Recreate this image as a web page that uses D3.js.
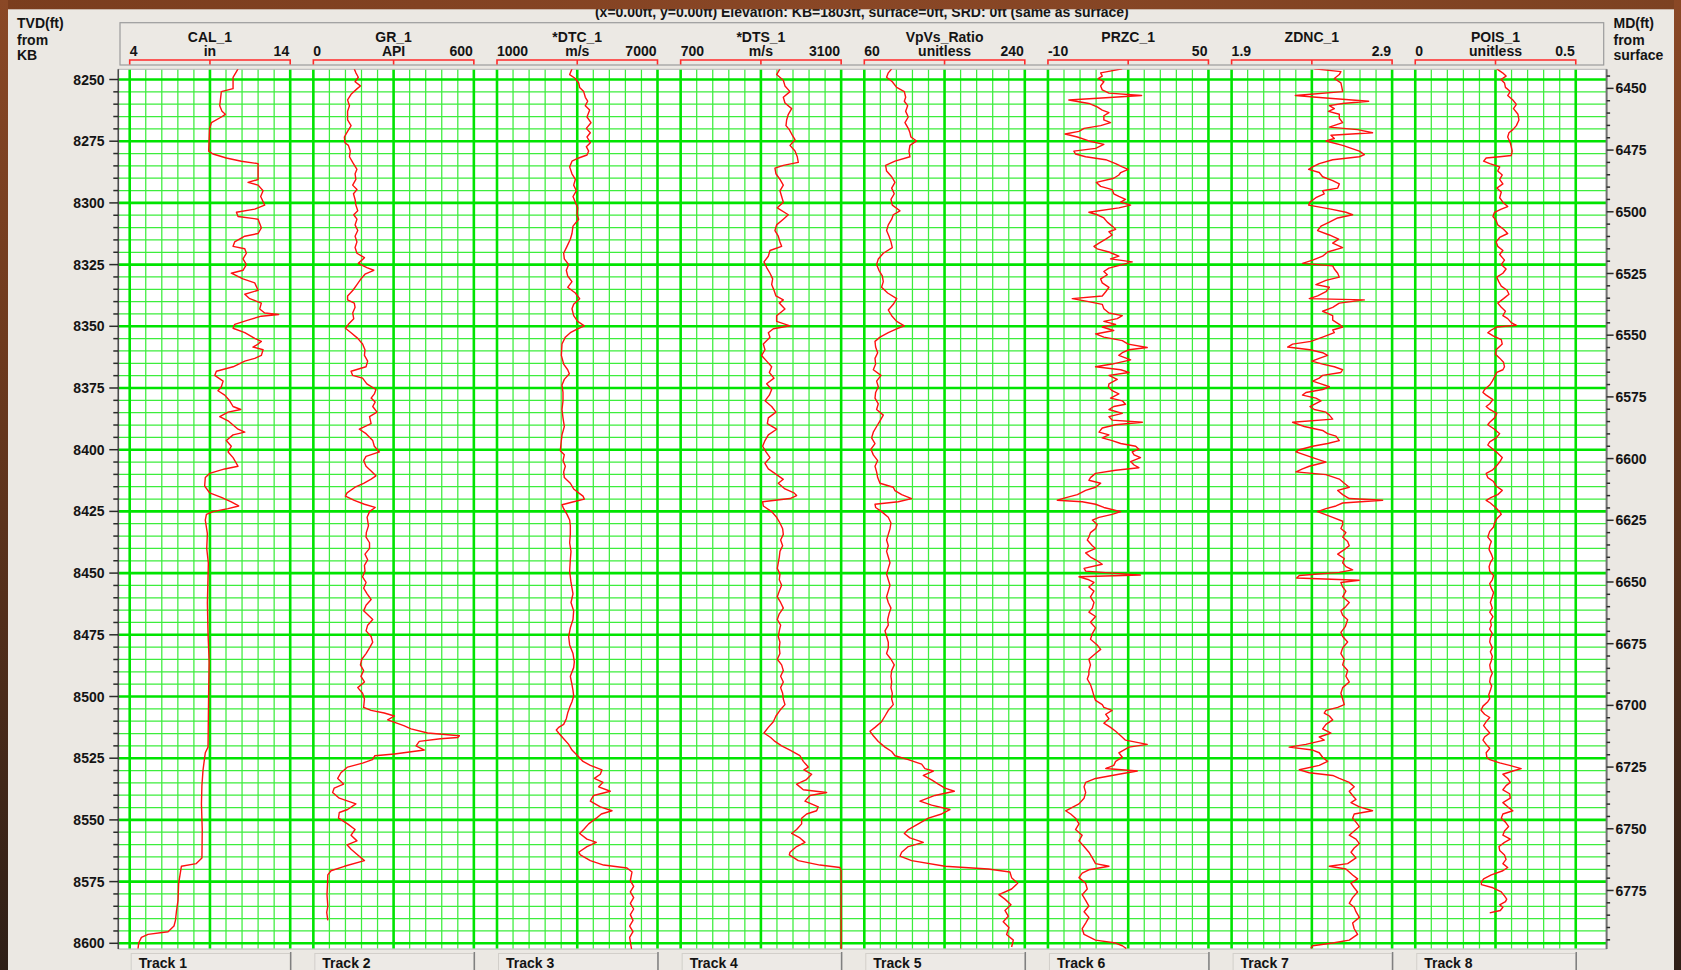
<!DOCTYPE html>
<html>
<head>
<meta charset="utf-8">
<script src="https://cdn.jsdelivr.net/npm/d3@7"></script>
<style>
  html, body { margin: 0; padding: 0; background: #ebe8e3; }
  svg { display: block; }
  text { font-family: "Liberation Sans", Arial, Helvetica, sans-serif; font-weight: bold; fill: #141414; }
</style>
</head>
<body>
<svg id="chart" width="1681" height="970"></svg>
<script>
// ---------- Track definitions ----------
const trackNames = ["CAL_1", "GR_1", "*DTC_1", "*DTS_1", "VpVs_Ratio", "PRZC_1", "ZDNC_1", "POIS_1"];
const trackUnits = ["in", "API", "m/s", "m/s", "unitless", "", "", "unitless"];
const trackMins  = [4, 0, 1000, 700, 60, -10, 1.9, 0];
const trackMaxs  = [14, 600, 7000, 3100, 240, 50, 2.9, 0.5];
const trackFooters = ["Track 1", "Track 2", "Track 3", "Track 4", "Track 5", "Track 6", "Track 7", "Track 8"];

// ---------- Depth axes ----------
const tvdLabels = [8250, 8275, 8300, 8325, 8350, 8375, 8400, 8425, 8450, 8475, 8500, 8525, 8550, 8575, 8600];
const mdLabels  = [6450, 6475, 6500, 6525, 6550, 6575, 6600, 6625, 6650, 6675, 6700, 6725, 6750, 6775];
const mdToTvdShift = 1803.6;   // TVD from KB = MD from surface + shift
const titleText = "(x=0.00ft, y=0.00ft) Elevation: KB=1803ft, surface=0ft, SRD: 0ft (same as surface)";

// ---------- Log curves: [TVD depth (ft), value] ----------
const calCurve = [[8245.7,10.75],[8249.1,10.44],[8253.7,10.44],[8254.9,9.71],[8260.6,9.61],[8262.9,9.75],[8264.1,9.96],[8265.2,9.71],[8267.5,9.09],[8269.8,8.98],[8279.0,8.92],[8280.2,9.19],[8281.8,10.02],[8283.1,10.96],[8284.1,12.0],[8290.5,12.0],[8291.7,11.37],[8292.8,12.0],[8295.1,12.31],[8297.4,12.16],[8300.9,12.41],[8302.5,11.79],[8303.8,10.65],[8305.5,10.75],[8306.6,12.0],[8310.1,12.2],[8312.4,12.0],[8313.5,11.17],[8315.8,10.54],[8317.6,10.44],[8318.6,11.17],[8320.4,11.27],[8322.7,11.06],[8325.0,11.27],[8327.3,11.06],[8328.5,10.33],[8330.8,11.06],[8332.4,11.79],[8335.4,12.0],[8337.0,11.17],[8338.8,11.48],[8340.6,12.2],[8343.0,12.1],[8344.6,12.41],[8345.2,13.28],[8345.9,12.2],[8347.5,11.37],[8349.2,10.54],[8350.8,10.44],[8352.6,11.17],[8354.9,11.79],[8356.1,12.2],[8357.2,12.0],[8358.4,11.68],[8359.5,12.31],[8361.8,12.2],[8363.0,11.79],[8364.1,11.17],[8366.4,10.44],[8368.2,9.4],[8369.9,9.3],[8372.2,9.82],[8374.5,9.71],[8376.1,9.5],[8377.9,9.92],[8380.2,10.23],[8382.5,10.44],[8383.7,10.92],[8384.8,10.13],[8386.6,9.61],[8388.3,10.13],[8391.7,10.75],[8392.9,11.17],[8394.0,10.44],[8396.3,10.02],[8398.6,10.33],[8400.9,10.13],[8403.2,10.44],[8406.7,10.75],[8407.8,9.92],[8409.6,8.98],[8411.3,8.71],[8414.7,8.67],[8417.5,8.98],[8419.3,9.71],[8421.1,10.33],[8422.8,10.79],[8423.9,10.13],[8425.1,9.19],[8426.2,8.78],[8428.5,8.71],[8434.0,8.84],[8440.0,8.8],[8446.0,8.9],[8451.5,8.88],[8462.0,8.84],[8474.5,8.88],[8486.0,8.95],[8497.5,8.92],[8509.0,8.9],[8520.5,8.88],[8522.8,8.71],[8529.7,8.57],[8536.0,8.5],[8543.5,8.47],[8554.0,8.52],[8565.4,8.5],[8567.7,8.15],[8568.8,7.22],[8575.7,7.05],[8582.6,7.01],[8587.2,6.91],[8590.7,6.85],[8593.0,6.76],[8595.3,6.39],[8596.4,5.14],[8597.6,4.73],[8599.9,4.56],[8602.1,4.52]];

const grCurve = [[8245.7,153],[8247.3,159],[8249.1,168],[8250.9,156],[8252.6,176],[8253.7,164],[8256.0,141],[8258.3,128],[8260.6,135],[8262.9,128],[8266.4,128],[8268.7,141],[8271.0,128],[8273.3,116],[8275.6,118],[8276.7,131],[8279.0,138],[8281.3,135],[8283.6,147],[8286.4,163],[8288.2,156],[8290.5,159],[8292.8,147],[8294.6,163],[8296.3,150],[8298.6,156],[8300.9,159],[8303.2,166],[8304.8,151],[8306.6,163],[8308.9,156],[8311.2,166],[8313.5,156],[8315.8,163],[8318.1,156],[8320.4,163],[8322.2,191],[8324.5,168],[8326.2,200],[8327.3,226],[8328.9,193],[8330.8,178],[8333.1,163],[8335.4,148],[8337.7,128],[8339.3,128],[8340.6,153],[8342.3,156],[8344.6,147],[8346.9,151],[8349.2,131],[8350.8,120],[8352.6,141],[8354.9,166],[8357.2,184],[8359.5,193],[8361.8,191],[8364.1,203],[8366.4,197],[8368.2,141],[8369.9,147],[8371.0,184],[8373.3,200],[8375.6,234],[8377.4,228],[8379.1,216],[8380.7,231],[8382.5,222],[8384.8,238],[8386.6,210],[8389.4,216],[8391.7,172],[8393.5,197],[8396.3,222],[8398.6,228],[8400.9,247],[8402.7,197],[8404.4,188],[8406.7,197],[8408.3,213],[8410.6,234],[8411.9,216],[8413.6,188],[8415.2,156],[8417.5,126],[8418.8,120],[8420.5,153],[8422.1,191],[8423.4,231],[8425.1,210],[8427.4,201],[8430.8,206],[8433.6,198],[8435.4,197],[8437.7,210],[8440.0,210],[8442.3,193],[8444.6,203],[8446.9,191],[8449.2,193],[8451.5,184],[8453.8,197],[8456.1,188],[8458.4,201],[8460.7,216],[8463.0,197],[8465.3,188],[8468.8,222],[8471.1,203],[8473.4,197],[8475.7,216],[8478.0,222],[8480.3,210],[8482.6,197],[8484.9,181],[8487.2,176],[8489.5,188],[8491.8,178],[8494.1,191],[8496.4,166],[8498.7,184],[8501.0,191],[8504.4,188],[8505.6,216],[8506.7,265],[8507.9,303],[8509.5,278],[8511.8,338],[8513.1,365],[8514.8,427],[8515.9,546],[8516.6,540],[8517.1,475],[8518.2,396],[8520.0,384],[8521.7,415],[8523.3,303],[8524.0,230],[8525.6,221],[8527.0,184],[8528.6,128],[8530.9,103],[8533.2,91],[8535.5,113],[8537.1,78],[8538.9,72],[8541.2,97],[8543.5,159],[8545.8,128],[8547.0,97],[8549.3,94],[8551.6,128],[8553.9,156],[8556.2,141],[8558.5,163],[8560.1,126],[8561.9,141],[8564.2,166],[8566.5,191],[8568.8,116],[8570.6,66],[8572.3,54],[8576.0,53],[8580.3,51],[8584.9,54],[8587.5,50],[8590.7,54]];

const dtcCurve = [[8245.7,3803],[8248.0,3716],[8249.6,3928],[8251.4,4053],[8253.2,4090],[8254.9,4240],[8257.2,4302],[8258.8,4389],[8260.6,4302],[8262.4,4464],[8265.2,4364],[8267.5,4514],[8269.8,4339],[8271.6,4489],[8273.3,4364],[8275.6,4489],[8277.2,4339],[8279.0,4427],[8280.6,4364],[8281.8,4053],[8283.1,3803],[8285.4,3716],[8288.2,3803],[8290.5,3928],[8292.8,3866],[8295.1,3966],[8297.4,3841],[8299.7,3928],[8302.0,4015],[8304.8,3990],[8306.6,4053],[8309.4,3841],[8312.4,3803],[8314.7,3741],[8317.6,3617],[8320.4,3492],[8322.7,3517],[8325.0,3679],[8327.3,3592],[8329.6,3642],[8331.9,3803],[8334.2,3642],[8336.5,3928],[8338.8,4090],[8341.1,3866],[8342.9,3803],[8345.7,3866],[8348.0,4015],[8349.8,4265],[8351.0,4015],[8352.6,3741],[8354.4,3554],[8357.2,3430],[8361.8,3405],[8365.3,3492],[8367.6,3642],[8369.2,3704],[8371.5,3517],[8373.8,3430],[8376.8,3467],[8380.2,3467],[8383.7,3430],[8387.1,3467],[8390.6,3517],[8394.0,3430],[8397.5,3393],[8400.4,3367],[8402.0,3517],[8404.4,3467],[8406.7,3554],[8409.0,3492],[8411.3,3517],[8413.6,3741],[8415.9,3866],[8417.5,4053],[8418.8,4215],[8420.0,4265],[8421.1,3866],[8422.3,3430],[8423.9,3492],[8426.2,3617],[8428.5,3716],[8430.8,3741],[8434.3,3741],[8437.7,3716],[8441.2,3766],[8444.6,3741],[8449.2,3716],[8453.8,3766],[8458.4,3841],[8461.9,3766],[8465.3,3866],[8468.8,3841],[8472.2,3741],[8475.7,3679],[8479.1,3716],[8482.6,3841],[8486.0,3891],[8488.3,3866],[8491.8,3741],[8495.2,3803],[8497.5,3841],[8499.8,3866],[8502.1,3803],[8504.4,3716],[8506.7,3642],[8509.0,3592],[8511.3,3492],[8512.5,3305],[8513.6,3218],[8514.8,3305],[8517.1,3492],[8519.4,3679],[8521.7,3803],[8524.0,4015],[8526.3,4215],[8527.9,4489],[8529.7,4925],[8531.5,4863],[8533.2,4638],[8534.8,4962],[8536.6,4800],[8538.4,5236],[8540.1,4613],[8542.4,4489],[8544.7,4863],[8546.3,5299],[8547.6,4900],[8549.3,4713],[8551.6,4427],[8553.9,4240],[8555.5,4090],[8557.8,4364],[8559.1,4713],[8560.8,4364],[8563.1,4053],[8564.2,4115],[8566.5,4489],[8568.3,4987],[8569.5,5859],[8571.1,6047],[8574.6,5984],[8576.9,6109],[8579.2,5984],[8581.5,6109],[8583.8,5984],[8586.1,6109],[8588.4,5984],[8590.7,6084],[8593.0,5959],[8595.3,6084],[8597.6,5959],[8601.0,6009],[8602.3,6030]];

const dtsCurve = [[8245.7,2185],[8248.0,2135],[8250.3,2235],[8252.6,2260],[8254.9,2335],[8257.2,2235],[8259.5,2260],[8261.8,2360],[8264.1,2310],[8266.4,2285],[8268.7,2275],[8270.3,2325],[8272.1,2360],[8274.4,2410],[8276.7,2335],[8279.0,2410],[8281.3,2444],[8283.6,2459],[8284.8,2235],[8285.9,2110],[8288.2,2125],[8290.5,2185],[8292.8,2235],[8295.1,2185],[8297.4,2210],[8299.7,2235],[8302.0,2145],[8304.8,2310],[8306.6,2235],[8308.9,2135],[8311.2,2110],[8313.5,2160],[8315.8,2185],[8317.6,2210],[8319.3,2036],[8321.6,2011],[8323.9,1946],[8326.2,1986],[8328.5,2036],[8330.8,2076],[8333.1,2061],[8335.4,2096],[8337.7,2125],[8339.3,2235],[8340.6,2175],[8343.0,2260],[8345.7,2135],[8348.0,2135],[8349.8,2335],[8351.0,2086],[8352.6,2011],[8354.4,2036],[8357.2,1936],[8359.5,1961],[8361.8,1911],[8364.1,1986],[8366.4,2061],[8368.7,2026],[8371.0,2096],[8373.3,1986],[8375.6,2061],[8377.9,2026],[8380.2,1961],[8382.5,2061],[8384.8,2125],[8387.1,2011],[8389.4,1996],[8391.7,2135],[8394.0,2011],[8396.3,1961],[8398.6,1926],[8400.9,1976],[8403.2,2036],[8405.5,1961],[8407.8,2011],[8410.1,2135],[8412.0,2235],[8413.6,2160],[8415.9,2260],[8417.5,2395],[8418.6,2434],[8419.8,2335],[8421.1,1926],[8422.8,1936],[8425.1,2061],[8427.4,2135],[8429.7,2185],[8432.0,2225],[8434.3,2235],[8436.6,2195],[8438.9,2225],[8441.2,2185],[8443.5,2175],[8445.8,2160],[8448.1,2145],[8450.4,2185],[8452.7,2175],[8454.9,2210],[8457.3,2175],[8459.6,2145],[8461.9,2195],[8464.2,2235],[8466.5,2175],[8468.8,2145],[8471.1,2195],[8473.4,2175],[8475.7,2160],[8478.0,2185],[8480.3,2175],[8482.6,2185],[8484.9,2145],[8487.2,2210],[8489.5,2235],[8491.8,2195],[8494.1,2235],[8496.4,2195],[8498.7,2225],[8501.0,2235],[8503.3,2260],[8505.6,2185],[8507.9,2125],[8510.2,2086],[8512.5,2011],[8514.8,1946],[8516.6,2046],[8518.2,2110],[8520.0,2210],[8521.7,2335],[8524.0,2484],[8526.3,2534],[8528.6,2609],[8529.7,2544],[8531.5,2659],[8533.8,2574],[8535.5,2434],[8537.8,2534],[8538.9,2883],[8540.1,2634],[8542.4,2559],[8544.7,2758],[8546.3,2733],[8547.6,2584],[8549.3,2509],[8551.6,2509],[8553.9,2434],[8555.5,2360],[8557.3,2484],[8559.1,2559],[8560.8,2434],[8563.1,2335],[8564.2,2325],[8566.5,2459],[8568.3,2783],[8569.3,3082],[8570.6,3100],[8602.3,3100]];

const vpvsCurve = [[8245.7,90.7],[8247.3,86.9],[8249.1,85.0],[8250.9,91.4],[8253.2,96.3],[8254.9,104.9],[8257.2,106.4],[8258.8,104.9],[8260.6,108.6],[8262.9,106.4],[8265.2,109.3],[8267.5,105.6],[8269.8,109.3],[8271.6,111.2],[8273.3,112.3],[8274.9,118.7],[8276.7,111.2],[8279.0,110.1],[8281.3,111.2],[8283.1,94.4],[8284.8,83.9],[8287.1,85.0],[8289.4,90.7],[8291.7,94.4],[8294.0,90.7],[8296.3,93.6],[8298.6,89.9],[8300.9,91.4],[8303.2,100.0],[8304.8,92.5],[8306.6,90.7],[8308.9,86.9],[8311.2,85.0],[8313.5,87.7],[8315.8,89.9],[8318.1,91.4],[8320.4,81.3],[8322.7,75.7],[8325.0,73.8],[8327.3,76.4],[8329.6,80.2],[8331.9,81.3],[8334.2,79.4],[8336.5,86.2],[8338.8,96.3],[8341.1,92.5],[8343.4,86.9],[8345.7,90.7],[8348.0,96.3],[8349.8,104.9],[8351.0,96.3],[8352.6,86.9],[8354.4,77.6],[8356.1,72.0],[8358.4,72.7],[8360.7,75.0],[8363.0,72.0],[8365.3,72.7],[8367.6,70.1],[8369.9,78.7],[8372.2,73.8],[8374.5,75.7],[8376.8,72.7],[8379.1,72.0],[8381.4,75.7],[8383.7,73.8],[8386.0,81.3],[8388.3,77.6],[8390.6,73.8],[8392.9,70.1],[8395.2,68.2],[8397.5,72.0],[8399.8,67.5],[8402.1,70.1],[8404.4,75.0],[8406.7,72.0],[8409.0,73.8],[8411.3,75.0],[8413.6,77.6],[8415.2,92.5],[8416.6,94.4],[8418.2,101.9],[8419.8,113.1],[8421.1,98.1],[8422.1,72.0],[8423.4,72.7],[8425.1,79.4],[8427.4,86.9],[8429.7,89.9],[8432.0,88.8],[8434.3,86.9],[8436.6,85.0],[8438.9,86.9],[8441.2,85.0],[8443.5,86.9],[8445.8,88.8],[8448.1,86.9],[8450.4,85.0],[8452.7,86.9],[8454.9,88.8],[8457.3,86.9],[8459.6,85.0],[8461.9,86.9],[8464.2,89.9],[8466.5,87.7],[8468.8,86.2],[8471.1,86.9],[8473.4,83.2],[8475.7,85.0],[8478.0,86.9],[8480.3,86.9],[8482.6,85.0],[8484.9,89.9],[8487.2,93.6],[8489.5,90.7],[8491.8,89.9],[8494.1,90.7],[8496.4,89.9],[8498.7,91.4],[8501.0,90.7],[8503.3,92.5],[8505.6,86.9],[8507.9,83.2],[8510.2,79.4],[8512.5,72.0],[8514.1,66.4],[8515.9,70.1],[8518.2,75.7],[8520.5,83.2],[8522.3,90.7],[8524.0,94.4],[8525.6,109.3],[8527.4,124.3],[8529.2,128.0],[8530.2,137.4],[8532.0,126.2],[8533.8,135.5],[8535.5,143.0],[8537.1,150.5],[8538.4,161.0],[8540.1,139.2],[8542.4,122.4],[8544.0,135.5],[8545.8,156.0],[8547.6,146.7],[8549.3,131.8],[8551.6,120.6],[8553.9,109.3],[8555.5,104.9],[8557.3,111.2],[8559.1,126.2],[8560.8,109.3],[8563.1,101.9],[8564.7,100.0],[8566.5,113.1],[8568.8,150.5],[8569.9,199.0],[8571.1,223.3],[8573.4,225.2],[8575.7,232.0],[8578.0,225.2],[8580.3,211.0],[8582.1,217.7],[8584.4,224.5],[8586.7,217.7],[8589.0,221.5],[8591.3,215.8],[8593.6,222.2],[8596.4,219.6],[8598.7,227.1],[8601.5,225.2]];

const przcCurve = [[8245.7,17.8],[8247.3,9.7],[8248.6,10.3],[8249.6,8.8],[8250.9,10.9],[8252.6,9.7],[8254.2,10.3],[8255.5,12.8],[8256.5,25.0],[8257.4,11.6],[8258.3,-2.2],[8259.7,5.3],[8261.1,8.4],[8262.4,10.3],[8263.4,12.8],[8264.7,10.9],[8266.4,10.9],[8267.5,13.4],[8268.7,9.7],[8269.8,3.5],[8271.0,1.6],[8272.1,-3.6],[8273.3,1.0],[8274.9,5.3],[8276.3,10.9],[8277.9,7.8],[8279.0,-0.3],[8280.2,0.3],[8281.3,4.1],[8282.5,11.6],[8284.1,15.3],[8285.4,17.8],[8286.4,20.0],[8287.7,17.2],[8288.7,16.5],[8290.0,14.6],[8291.7,8.1],[8293.3,9.7],[8294.6,14.0],[8296.3,14.6],[8297.4,16.5],[8298.6,19.0],[8299.7,17.2],[8300.9,20.9],[8302.0,16.5],[8303.8,5.3],[8304.8,8.4],[8306.1,10.9],[8307.8,12.2],[8309.4,14.0],[8310.7,15.3],[8311.7,12.8],[8313.0,14.0],[8314.7,11.6],[8316.3,9.1],[8317.6,7.2],[8318.6,8.4],[8319.9,12.8],[8321.6,16.5],[8322.7,13.4],[8323.9,21.5],[8325.0,17.8],[8326.4,12.8],[8327.8,10.9],[8329.1,12.2],[8330.8,9.7],[8332.4,10.3],[8334.2,12.8],[8336.0,11.6],[8337.7,10.3],[8338.8,-0.9],[8339.9,4.7],[8341.1,10.3],[8342.9,10.9],[8344.6,12.8],[8345.7,17.8],[8346.9,15.9],[8348.0,10.9],[8349.2,15.3],[8350.3,10.3],[8351.7,14.6],[8353.1,7.8],[8354.4,10.9],[8355.8,17.8],[8357.2,20.0],[8358.6,27.1],[8359.5,20.3],[8360.7,17.8],[8361.8,16.5],[8363.6,20.9],[8365.3,14.0],[8366.4,7.8],[8367.6,17.2],[8368.7,20.3],[8369.9,12.8],[8371.5,15.9],[8373.3,12.8],[8374.5,12.6],[8376.1,14.0],[8377.4,16.5],[8379.1,13.4],[8380.2,17.8],[8381.6,19.0],[8382.5,14.6],[8383.7,12.8],[8385.3,17.8],[8386.6,12.8],[8388.0,14.0],[8388.9,25.3],[8389.9,15.3],[8391.2,10.3],[8392.9,9.1],[8394.0,12.8],[8395.2,10.3],[8396.3,14.0],[8397.5,17.2],[8398.6,22.8],[8399.8,24.0],[8400.9,21.5],[8402.1,22.2],[8403.2,24.6],[8404.8,20.9],[8406.2,22.2],[8407.3,24.0],[8408.3,15.3],[8409.6,7.8],[8411.3,5.9],[8412.4,5.3],[8413.6,9.7],[8415.2,7.8],[8416.5,4.1],[8418.2,1.0],[8419.3,-2.9],[8420.5,-6.5],[8421.1,2.8],[8422.1,7.8],[8423.4,10.9],[8425.1,17.2],[8426.2,14.0],[8427.4,9.1],[8428.5,6.6],[8430.3,8.4],[8432.0,7.8],[8433.6,5.9],[8435.4,5.3],[8436.6,4.7],[8438.9,6.6],[8440.0,7.8],[8441.8,4.1],[8443.5,5.9],[8444.6,7.8],[8446.4,10.3],[8448.1,3.5],[8449.2,4.1],[8449.9,12.8],[8450.8,24.6],[8451.5,1.6],[8452.7,5.3],[8453.8,7.2],[8455.6,5.3],[8457.3,7.2],[8459.6,5.9],[8461.9,7.2],[8464.2,6.6],[8465.8,5.3],[8467.6,7.8],[8469.9,5.9],[8472.2,7.8],[8474.5,6.6],[8476.8,5.9],[8479.1,8.4],[8480.9,9.7],[8482.6,7.8],[8484.9,5.3],[8487.2,5.9],[8489.5,5.3],[8491.1,5.3],[8492.9,4.7],[8495.2,5.9],[8497.5,6.6],[8499.8,7.2],[8501.6,7.8],[8503.3,10.3],[8504.4,10.9],[8505.6,14.0],[8507.2,11.6],[8509.0,12.8],[8510.8,10.9],[8512.5,13.4],[8514.1,15.3],[8515.9,17.2],[8517.7,19.0],[8519.4,27.1],[8520.5,20.3],[8522.8,16.5],[8524.6,17.8],[8526.3,15.3],[8527.9,14.6],[8529.2,11.6],[8530.2,23.4],[8531.5,16.5],[8533.2,7.8],[8534.8,4.1],[8536.6,3.5],[8538.9,4.1],[8541.2,3.5],[8543.5,1.6],[8546.3,-3.4],[8547.6,-1.5],[8549.3,0.3],[8551.6,1.6],[8553.9,0.3],[8556.2,2.8],[8558.5,1.6],[8560.8,3.5],[8563.1,5.3],[8565.4,6.6],[8567.7,7.8],[8568.8,12.8],[8570.2,5.3],[8571.6,2.8],[8573.4,1.6],[8575.7,4.1],[8578.0,4.7],[8580.3,2.8],[8582.6,4.1],[8584.9,5.3],[8587.2,3.5],[8589.5,5.3],[8591.8,4.1],[8594.1,2.8],[8596.4,3.5],[8598.7,7.8],[8599.9,15.3],[8601.0,17.8],[8602.1,19.3]];

const zdncCurve = [[8245.7,2.415],[8246.8,2.581],[8248.0,2.571],[8249.6,2.540],[8251.4,2.581],[8253.2,2.587],[8254.9,2.592],[8256.5,2.297],[8257.4,2.467],[8258.8,2.754],[8259.7,2.592],[8260.6,2.509],[8261.8,2.540],[8262.9,2.504],[8264.1,2.571],[8265.7,2.571],[8267.5,2.592],[8269.3,2.509],[8270.3,2.685],[8271.6,2.778],[8272.6,2.519],[8273.9,2.540],[8274.9,2.488],[8276.7,2.592],[8279.0,2.696],[8280.4,2.727],[8281.3,2.696],[8282.5,2.530],[8284.1,2.446],[8285.4,2.405],[8286.4,2.380],[8287.7,2.446],[8289.4,2.467],[8291.0,2.530],[8292.3,2.571],[8294.0,2.561],[8295.1,2.467],[8296.3,2.477],[8297.9,2.425],[8299.7,2.388],[8300.9,2.380],[8302.5,2.519],[8303.8,2.612],[8304.8,2.654],[8306.1,2.561],[8307.8,2.509],[8309.4,2.457],[8311.2,2.436],[8313.0,2.509],[8314.7,2.567],[8316.3,2.530],[8318.1,2.592],[8319.9,2.498],[8321.6,2.467],[8323.2,2.405],[8324.5,2.342],[8325.5,2.530],[8326.8,2.540],[8328.5,2.561],[8330.1,2.571],[8331.4,2.488],[8333.1,2.425],[8334.2,2.509],[8336.0,2.488],[8337.7,2.436],[8338.8,2.384],[8339.3,2.727],[8340.6,2.571],[8342.3,2.530],[8343.9,2.467],[8345.7,2.530],[8347.5,2.530],[8349.2,2.571],[8350.3,2.592],[8351.5,2.530],[8352.6,2.540],[8354.4,2.467],[8356.1,2.394],[8357.2,2.280],[8358.4,2.249],[8359.5,2.388],[8360.7,2.467],[8361.8,2.498],[8363.0,2.446],[8364.1,2.400],[8365.3,2.467],[8366.4,2.540],[8367.6,2.592],[8368.7,2.581],[8369.9,2.467],[8371.0,2.446],[8372.2,2.405],[8373.3,2.457],[8374.5,2.509],[8375.6,2.467],[8376.8,2.363],[8377.9,2.342],[8379.1,2.425],[8380.2,2.457],[8382.5,2.388],[8383.7,2.415],[8384.8,2.488],[8386.0,2.509],[8387.6,2.530],[8388.9,2.280],[8390.6,2.353],[8392.2,2.467],[8393.5,2.498],[8394.5,2.550],[8396.3,2.571],[8397.5,2.498],[8398.6,2.405],[8400.0,2.322],[8400.9,2.301],[8403.2,2.405],[8405.0,2.488],[8406.7,2.384],[8407.8,2.342],[8409.0,2.301],[8410.1,2.488],[8411.9,2.571],[8413.6,2.602],[8415.2,2.633],[8416.5,2.561],[8418.2,2.592],[8419.8,2.633],[8420.5,2.841],[8421.6,2.592],[8422.8,2.550],[8423.9,2.488],[8425.1,2.436],[8427.4,2.530],[8429.0,2.592],[8430.3,2.592],[8431.9,2.581],[8433.6,2.612],[8435.4,2.592],[8437.2,2.623],[8438.9,2.633],[8440.5,2.602],[8442.3,2.561],[8444.1,2.602],[8445.8,2.592],[8447.4,2.612],[8448.7,2.654],[8449.7,2.571],[8451.0,2.322],[8452.0,2.305],[8452.9,2.695],[8453.8,2.581],[8455.6,2.592],[8457.3,2.612],[8459.6,2.592],[8461.9,2.633],[8463.5,2.612],[8465.3,2.581],[8467.1,2.592],[8468.9,2.623],[8471.7,2.608],[8474.0,2.581],[8475.7,2.592],[8477.9,2.623],[8480.3,2.592],[8482.6,2.581],[8484.9,2.602],[8487.2,2.592],[8489.5,2.623],[8491.8,2.612],[8494.1,2.633],[8496.4,2.592],[8498.7,2.581],[8501.0,2.592],[8503.3,2.602],[8504.4,2.561],[8505.6,2.488],[8506.7,2.477],[8507.9,2.509],[8509.5,2.530],[8511.3,2.488],[8513.1,2.467],[8514.8,2.519],[8516.4,2.446],[8517.7,2.477],[8519.4,2.363],[8520.5,2.259],[8521.7,2.405],[8522.8,2.446],[8524.6,2.467],[8526.3,2.498],[8527.9,2.446],[8529.7,2.322],[8530.9,2.384],[8532.0,2.530],[8533.2,2.571],[8534.8,2.633],[8536.6,2.664],[8538.4,2.633],[8540.1,2.654],[8541.7,2.675],[8543.0,2.644],[8544.7,2.696],[8546.3,2.778],[8547.6,2.664],[8549.3,2.654],[8550.9,2.675],[8552.7,2.696],[8554.5,2.664],[8556.2,2.633],[8557.8,2.675],[8559.6,2.696],[8561.4,2.664],[8563.1,2.644],[8565.4,2.675],[8567.7,2.623],[8568.8,2.509],[8569.9,2.612],[8572.3,2.654],[8573.9,2.685],[8575.7,2.644],[8577.5,2.664],[8579.2,2.685],[8581.5,2.654],[8583.8,2.633],[8585.4,2.664],[8587.2,2.675],[8589.5,2.696],[8591.8,2.654],[8594.1,2.664],[8596.4,2.685],[8598.7,2.633],[8599.9,2.530],[8601.0,2.405],[8602.1,2.394]];

const poisCurve = [[8245.7,0.254],[8247.3,0.272],[8248.6,0.283],[8250.0,0.267],[8251.4,0.278],[8253.2,0.281],[8254.9,0.296],[8256.5,0.288],[8258.3,0.304],[8260.1,0.315],[8261.8,0.306],[8264.1,0.320],[8266.4,0.323],[8268.7,0.315],[8270.3,0.304],[8271.6,0.292],[8273.3,0.288],[8275.6,0.296],[8277.2,0.299],[8279.0,0.302],[8280.8,0.299],[8281.3,0.263],[8281.8,0.221],[8283.1,0.213],[8284.1,0.232],[8285.4,0.263],[8287.1,0.257],[8288.7,0.271],[8290.5,0.263],[8292.3,0.273],[8294.0,0.254],[8295.6,0.268],[8297.9,0.263],[8299.7,0.273],[8301.5,0.288],[8302.5,0.268],[8303.8,0.247],[8305.5,0.242],[8307.1,0.252],[8308.9,0.257],[8310.7,0.275],[8312.4,0.288],[8314.0,0.263],[8315.8,0.252],[8317.6,0.257],[8319.3,0.273],[8320.9,0.263],[8323.2,0.278],[8325.0,0.268],[8326.8,0.283],[8328.5,0.273],[8330.1,0.254],[8331.9,0.260],[8333.7,0.268],[8335.4,0.286],[8337.0,0.292],[8338.8,0.275],[8340.6,0.257],[8342.3,0.268],[8343.9,0.281],[8345.7,0.273],[8346.9,0.288],[8348.5,0.299],[8349.6,0.315],[8350.3,0.254],[8351.5,0.237],[8352.6,0.226],[8354.0,0.244],[8355.4,0.268],[8357.2,0.271],[8359.5,0.252],[8361.3,0.250],[8362.9,0.263],[8364.6,0.275],[8366.4,0.278],[8367.6,0.273],[8368.7,0.254],[8370.5,0.247],[8372.2,0.240],[8373.8,0.232],[8375.6,0.216],[8376.8,0.211],[8377.9,0.221],[8379.7,0.242],[8381.4,0.232],[8382.5,0.221],[8383.7,0.232],[8385.3,0.254],[8387.1,0.247],[8388.9,0.232],[8389.9,0.226],[8391.7,0.247],[8393.5,0.263],[8395.2,0.252],[8396.8,0.232],[8398.1,0.226],[8399.8,0.242],[8401.4,0.257],[8403.2,0.271],[8405.0,0.263],[8406.7,0.252],[8408.3,0.240],[8409.6,0.221],[8411.3,0.226],[8412.9,0.244],[8414.7,0.252],[8416.5,0.271],[8418.2,0.257],[8419.3,0.237],[8420.5,0.221],[8421.6,0.234],[8423.4,0.250],[8425.1,0.263],[8426.2,0.268],[8428.0,0.254],[8429.7,0.247],[8431.3,0.244],[8433.1,0.232],[8435.4,0.226],[8437.2,0.237],[8438.9,0.232],[8440.5,0.230],[8442.3,0.237],[8444.1,0.242],[8445.8,0.234],[8447.4,0.230],[8449.2,0.232],[8451.0,0.244],[8452.7,0.240],[8454.3,0.232],[8456.1,0.237],[8457.9,0.244],[8459.6,0.240],[8461.9,0.234],[8464.2,0.240],[8465.8,0.232],[8467.6,0.242],[8469.4,0.234],[8471.1,0.237],[8472.7,0.232],[8474.5,0.240],[8476.3,0.234],[8477.9,0.232],[8480.3,0.240],[8481.9,0.234],[8483.7,0.240],[8485.5,0.237],[8487.2,0.232],[8488.8,0.234],[8490.6,0.240],[8492.4,0.234],[8494.1,0.232],[8495.7,0.238],[8497.5,0.234],[8499.3,0.229],[8500.9,0.232],[8502.1,0.226],[8503.9,0.211],[8505.6,0.205],[8507.2,0.216],[8508.5,0.232],[8510.2,0.221],[8511.8,0.213],[8513.1,0.221],[8514.8,0.232],[8516.4,0.216],[8517.7,0.211],[8519.4,0.221],[8521.0,0.232],[8522.8,0.221],[8524.6,0.223],[8525.6,0.232],[8526.9,0.263],[8527.9,0.294],[8529.2,0.330],[8530.2,0.304],[8531.5,0.273],[8533.2,0.288],[8534.8,0.296],[8536.1,0.283],[8537.8,0.273],[8539.4,0.294],[8541.2,0.296],[8543.0,0.273],[8544.7,0.288],[8546.3,0.304],[8547.6,0.273],[8549.3,0.268],[8550.9,0.281],[8552.7,0.291],[8554.5,0.278],[8556.2,0.273],[8557.8,0.296],[8559.1,0.278],[8560.8,0.261],[8562.4,0.263],[8564.2,0.278],[8566.0,0.283],[8567.7,0.273],[8569.3,0.288],[8570.6,0.273],[8572.3,0.237],[8573.9,0.213],[8575.2,0.206],[8576.2,0.206],[8577.5,0.242],[8579.2,0.268],[8580.8,0.278],[8582.1,0.285],[8583.1,0.281],[8584.4,0.263],[8585.4,0.273],[8586.7,0.265],[8587.2,0.247],[8587.7,0.232]];

const curves = [calCurve, grCurve, dtcCurve, dtsCurve, vpvsCurve, przcCurve, zdncCurve, poisCurve];

// ---------- Layout ----------
const W = 1681, H = 970;
const plot = { left: 118.3, right: 1606.6, top: 69.3, bottom: 949 };
const header = { left: 120, right: 1603.7, top: 22.7, bottom: 65 };
const track0 = 129.7, trackStep = 183.65, trackW = 160.5;

const svg = d3.select("#chart");
const defs = svg.append("defs");

// TVD depth scale (shared by every track) and MD scale derived from it
const y = d3.scaleLinear().domain([8250, 8600]).range([79.5, 943.3]);
const yMd = md => y(md + mdToTvdShift);

// one horizontal value scale per track
const xScales = trackNames.map((_, i) => {
  const left = track0 + trackStep * i;
  return d3.scaleLinear().domain([trackMins[i], trackMaxs[i]]).range([left, left + trackW]);
});

// page background
svg.append("rect").attr("width", W).attr("height", H).attr("fill", "#ebe8e3");

// ---------- Header ----------
svg.append("text").attr("x", (header.left + header.right) / 2).attr("y", 16.5)
  .attr("text-anchor", "middle").style("font-size", "14px").text(titleText);

svg.append("rect")
  .attr("x", header.left).attr("y", header.top)
  .attr("width", header.right - header.left).attr("height", header.bottom - header.top)
  .attr("fill", "#ece9e4").attr("stroke", "#9c9c9c").attr("stroke-width", 1.2);

const leftHead = ["TVD(ft)", "from", "KB"];
const rightHead = ["MD(ft)", "from", "surface"];
const headBaselines = [28.3, 44.6, 60.3];
leftHead.forEach((t, i) => svg.append("text").attr("x", 17).attr("y", headBaselines[i])
  .style("font-size", "14px").text(t));
rightHead.forEach((t, i) => svg.append("text").attr("x", 1613.5).attr("y", headBaselines[i])
  .style("font-size", "14px").text(t));

const headG = svg.append("g");
trackNames.forEach((name, i) => {
  const xs = xScales[i];
  const [l, r] = xs.range();
  const c = (l + r) / 2;
  headG.append("text").attr("x", c).attr("y", 41.6).attr("text-anchor", "middle")
    .style("font-size", "14px").text(name);
  headG.append("text").attr("x", l).attr("y", 55.8).style("font-size", "14px").text(String(trackMins[i]));
  headG.append("text").attr("x", r - 1).attr("y", 55.8).attr("text-anchor", "end")
    .style("font-size", "14px").text(String(trackMaxs[i]));
  if (trackUnits[i]) {
    headG.append("text").attr("x", c).attr("y", 55.8).attr("text-anchor", "middle")
      .style("font-size", "14px").text(trackUnits[i]);
  }
  // red scale bracket
  headG.append("path")
    .attr("d", `M${l},64.5V60H${r}V64.5M${c},60V64.5`)
    .attr("fill", "none").attr("stroke", "#ff2a2a").attr("stroke-width", 1.6);
});

// ---------- Plot frame ----------
svg.append("rect")
  .attr("x", plot.left).attr("y", plot.top)
  .attr("width", plot.right - plot.left).attr("height", plot.bottom - plot.top)
  .attr("fill", "#ffffff").attr("stroke", "#b4b4b4").attr("stroke-width", 1);

const grid = svg.append("g");
const depthLines = d3.range(8250, 8600.1, 5);
const isMajorDepth = d => d % 25 === 0;

// minor horizontal lines
grid.selectAll("line.hmin").data(depthLines.filter(d => !isMajorDepth(d))).join("line")
  .attr("x1", plot.left + 0.5).attr("x2", plot.right - 0.5)
  .attr("y1", d => y(d)).attr("y2", d => y(d))
  .attr("stroke", "#3ded3d").attr("stroke-width", 1.25);

// minor vertical lines
xScales.forEach((xs, i) => {
  const ticks = d3.range(11).map(k => trackMins[i] + k * (trackMaxs[i] - trackMins[i]) / 10);
  grid.append("g").selectAll("line").data(ticks.filter((_, k) => k % 5 !== 0)).join("line")
    .attr("x1", d => xs(d)).attr("x2", d => xs(d))
    .attr("y1", plot.top + 0.5).attr("y2", plot.bottom - 0.5)
    .attr("stroke", "#3ded3d").attr("stroke-width", 1.25);
});

// major horizontal lines
grid.selectAll("line.hmaj").data(depthLines.filter(isMajorDepth)).join("line")
  .attr("x1", plot.left + 0.5).attr("x2", plot.right - 0.5)
  .attr("y1", d => y(d)).attr("y2", d => y(d))
  .attr("stroke", "#00e400").attr("stroke-width", 2.6);

// major vertical lines (edges and centre of every track)
xScales.forEach((xs, i) => {
  const mid = (trackMins[i] + trackMaxs[i]) / 2;
  grid.append("g").selectAll("line").data([trackMins[i], mid, trackMaxs[i]]).join("line")
    .attr("x1", d => xs(d)).attr("x2", d => xs(d))
    .attr("y1", plot.top + 0.5).attr("y2", plot.bottom - 0.5)
    .attr("stroke", "#00e400").attr("stroke-width", 2.6);
});

// ---------- Curves ----------
curves.forEach((data, i) => {
  const xs = xScales[i];
  const [l, r] = xs.range();
  const id = "clip" + i;
  defs.append("clipPath").attr("id", id).append("rect")
    .attr("x", l - 1.5).attr("y", plot.top).attr("width", r - l + 3).attr("height", plot.bottom - plot.top);
  const line = d3.line().x(d => xs(d[1])).y(d => y(d[0]));
  svg.append("path").datum(data)
    .attr("clip-path", `url(#${id})`)
    .attr("d", line)
    .attr("fill", "none").attr("stroke", "#ff1010").attr("stroke-width", 1.4)
    .attr("stroke-linejoin", "round");
});

// ---------- Depth axes ----------
const axisG = svg.append("g");
const tvdTickDepths = d3.range(8250, 8600.1, 5);
axisG.append("line").attr("x1", plot.left).attr("x2", plot.left)
  .attr("y1", plot.top).attr("y2", plot.bottom).attr("stroke", "#4a4a4a").attr("stroke-width", 1.6);
axisG.selectAll("line.tt").data(tvdTickDepths).join("line")
  .attr("x1", d => isMajorDepth(d) ? plot.left - 9 : plot.left - 5).attr("x2", plot.left)
  .attr("y1", d => y(d)).attr("y2", d => y(d))
  .attr("stroke", "#2a2a2a").attr("stroke-width", 1.5);
axisG.selectAll("text.tl").data(tvdLabels).join("text")
  .attr("x", 104.5).attr("y", d => y(d)).attr("dy", "0.36em")
  .attr("text-anchor", "end").style("font-size", "14px").text(d => d);

const mdTop = y.invert(plot.top) - mdToTvdShift, mdBottom = y.invert(plot.bottom) - mdToTvdShift;
const mdTickDepths = d3.range(Math.ceil(mdTop / 5) * 5, mdBottom, 5);
axisG.append("line").attr("x1", plot.right).attr("x2", plot.right)
  .attr("y1", plot.top).attr("y2", plot.bottom).attr("stroke", "#707070").attr("stroke-width", 2);
axisG.selectAll("line.mt").data(mdTickDepths).join("line")
  .attr("x1", plot.right).attr("x2", d => d % 25 === 0 ? plot.right + 7 : plot.right + 3.5)
  .attr("y1", d => yMd(d)).attr("y2", d => yMd(d))
  .attr("stroke", "#2a2a2a").attr("stroke-width", 1.5);
axisG.selectAll("text.ml").data(mdLabels).join("text")
  .attr("x", 1615.5).attr("y", d => yMd(d)).attr("dy", "0.36em")
  .style("font-size", "14px").text(d => d);

// ---------- Track footers ----------
const footG = svg.append("g");
xScales.forEach((xs, i) => {
  const [l, r] = xs.range();
  footG.append("rect").attr("x", l + 1.5).attr("y", 953.5).attr("width", r - l - 1.5).attr("height", 30)
    .attr("fill", "#edeae6").attr("stroke", "#d2cfca").attr("stroke-width", 1);
  footG.append("line").attr("x1", r + 0.5).attr("x2", r + 0.5).attr("y1", 952).attr("y2", H)
    .attr("stroke", "#808080").attr("stroke-width", 1.5);
  footG.append("text").attr("x", l + 9).attr("y", 967.5).style("font-size", "14px").text(trackFooters[i]);
});

// ---------- Window frame ----------
const gTop = defs.append("linearGradient").attr("id", "frameTop").attr("x1", 0).attr("x2", 1).attr("y1", 0).attr("y2", 0);
gTop.append("stop").attr("offset", 0).attr("stop-color", "#7a3d1e");
gTop.append("stop").attr("offset", 0.5).attr("stop-color", "#8a4726");
gTop.append("stop").attr("offset", 1).attr("stop-color", "#7d4222");
const gSide = defs.append("linearGradient").attr("id", "frameSide").attr("x1", 0).attr("x2", 0).attr("y1", 0).attr("y2", 1);
gSide.append("stop").attr("offset", 0).attr("stop-color", "#8a4826");
gSide.append("stop").attr("offset", 0.35).attr("stop-color", "#6e3a1e");
gSide.append("stop").attr("offset", 1).attr("stop-color", "#2e1f17");

svg.append("rect").attr("x", 0).attr("y", 0).attr("width", W).attr("height", 9.3).attr("fill", "url(#frameTop)");
svg.append("rect").attr("x", 0).attr("y", 0).attr("width", 8).attr("height", H).attr("fill", "url(#frameSide)");
svg.append("rect").attr("x", 1674).attr("y", 0).attr("width", W - 1674).attr("height", H).attr("fill", "url(#frameSide)");
</script>
</body>
</html>
